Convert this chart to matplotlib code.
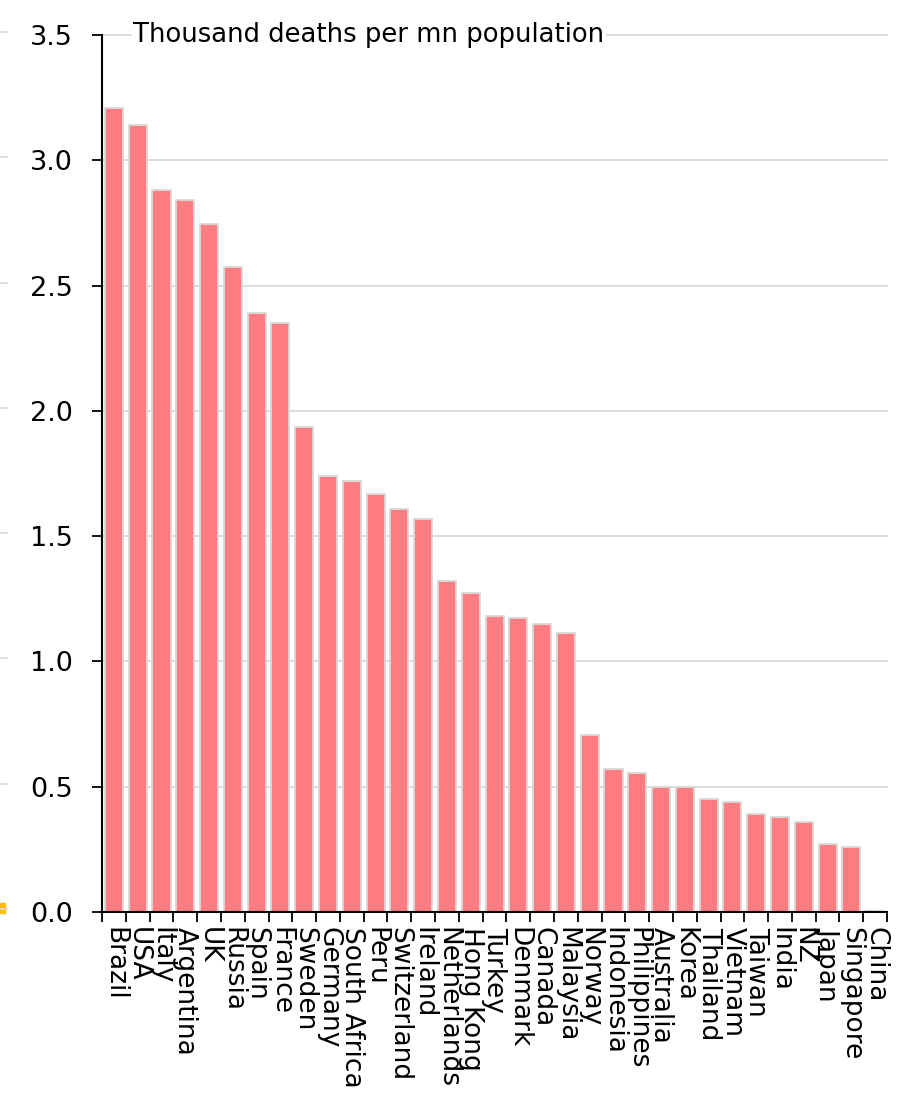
import matplotlib.pyplot as plt
import matplotlib.transforms as mtransforms
from matplotlib.lines import Line2D
from matplotlib.patches import Rectangle
import numpy as np

countries = ["Brazil", "USA", "Italy", "Argentina", "UK", "Russia", "Spain", "France",
             "Sweden", "Germany", "South Africa", "Peru", "Switzerland", "Ireland",
             "Netherlands", "Hong Kong", "Turkey", "Denmark", "Canada", "Malaysia",
             "Norway", "Indonesia", "Philippines", "Australia", "Korea", "Thailand",
             "Vietnam", "Taiwan", "India", "NZ", "Japan", "Singapore", "China"]
deaths_per_mn = [3.21, 3.14, 2.88, 2.84, 2.745, 2.575, 2.39, 2.35,
                 1.935, 1.74, 1.72, 1.67, 1.61, 1.57,
                 1.32, 1.275, 1.18, 1.175, 1.15, 1.115,
                 0.705, 0.572, 0.555, 0.5, 0.497, 0.452,
                 0.44, 0.392, 0.38, 0.36, 0.272, 0.26, 0.004]
y_ticks = [0.0, 0.5, 1.0, 1.5, 2.0, 2.5, 3.0, 3.5]

plt.rcParams['font.family'] = ['DejaVu Sans']

fig = plt.figure(figsize=(9.07, 11.11), dpi=100)
ax = fig.add_axes([0.1125, 0.1791, 0.8655, 0.7894])

x = np.arange(len(countries))
ax.bar(x, deaths_per_mn, width=0.76, color="#ff7c80", edgecolor="#d9d9d9",
       linewidth=1.3, zorder=3)

ax.set_xlim(-0.5, len(countries) - 0.5)
ax.set_ylim(0, 3.5)
ax.set_yticks(y_ticks)
ax.set_yticklabels([f"{v:.1f}" for v in y_ticks], fontsize=19.5)
ax.yaxis.grid(True, color="#d9d9d9", linewidth=1.3, zorder=0)
for gl in ax.get_ygridlines():
    gl.set_clip_on(False)

ax.set_xticks(x)
ax.set_xticklabels(countries, rotation=270, fontsize=19, va="top", ha="center")
ax.set_xticks(np.arange(-0.5, len(countries)), minor=True)
ax.tick_params(axis="x", which="major", length=0, pad=11)
ax.tick_params(axis="x", which="minor", length=7, width=1.3, color="black")
ax.tick_params(axis="y", length=7, width=1.3, pad=14)

for side in ("top", "right"):
    ax.spines[side].set_visible(False)
for side in ("left", "bottom"):
    ax.spines[side].set_linewidth(1.5)
    ax.spines[side].set_zorder(4)

ax.text(0.04, 1.0, "Thousand deaths per mn population", transform=ax.transAxes,
        fontsize=18.6, va="center", ha="left", zorder=5,
        bbox=dict(facecolor="white", edgecolor="none", pad=1))

# gridline stubs and marker of the neighbouring panel at the left edge
stub_tr = mtransforms.blended_transform_factory(fig.transFigure, ax.transData)
stub_tr = mtransforms.offset_copy(stub_tr, fig=fig, y=3, units="dots")
for v in y_ticks:
    fig.add_artist(Line2D([0, 0.008], [v, v], transform=stub_tr,
                          color="#d9d9d9", linewidth=1.2))
fig.add_artist(Rectangle((0, 0.178), 0.005, 0.009, transform=fig.transFigure,
                         color="#ffc000"))

fig.savefig("out.png", dpi=100)
